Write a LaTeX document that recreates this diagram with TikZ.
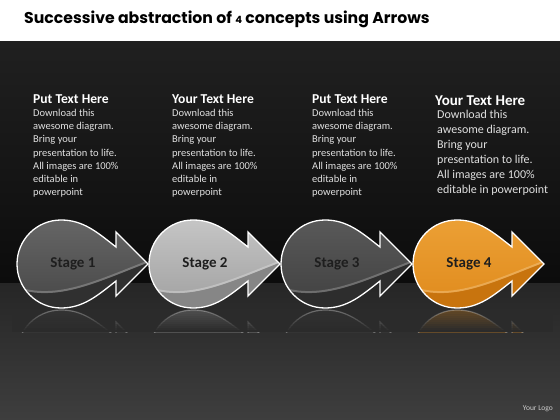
\documentclass[tikz,border=0pt]{standalone}
\usepackage{fontspec}
\setmainfont{Carlito}
\newfontfamily\titlefont{Poppins}
\definecolor{bgA}{HTML}{202020}
\definecolor{bgB}{HTML}{0C0C0C}
\definecolor{flA}{HTML}{262626}
\definecolor{flB}{HTML}{3E3E3E}
\definecolor{flM}{HTML}{2B2B2B}
\definecolor{labelc}{HTML}{1E1E1E}
\definecolor{orA}{HTML}{ECA035}
\definecolor{orB}{HTML}{DF8A1C}
\definecolor{orC}{HTML}{C8740E}
\tikzset{
  headtext/.style={anchor=base west, inner sep=0pt, text=white, font=\fontsize{13.6}{15}\selectfont\bfseries},
  bodytext/.style={anchor=base west, inner sep=0pt, text=white!88!black, font=\fontsize{10.5}{12}\selectfont},
  headbig/.style={anchor=base west, inner sep=0pt, text=white, font=\fontsize{15}{17}\selectfont\bfseries},
  bodybig/.style={anchor=base west, inner sep=0pt, text=white!88!black, font=\fontsize{12}{14}\selectfont},
  stagelabel/.style={inner sep=0pt, text=labelc, font=\fontsize{15}{17}\selectfont\bfseries},
  outline/.style={draw=white, line width=1.3pt, line join=miter}
}
\newcommand\drawstage[6]{%
  \begin{scope}
    \clip (#1-5,309) rectangle (#1+140,332);
    \fill[shift={(0,618)}, yscale=-1, #3, opacity=0.3] (#1+99,247) .. controls (#1+80,232) and (#1+66,220) .. (#1+44,220)
      arc[start angle=270,end angle=90,radius=44]
      .. controls (#1+66,308) and (#1+80,296) .. (#1+99,281) -- (#1+99,296) -- (#1+131,264) -- (#1+99,232) -- cycle;
    \draw[shift={(0,618)}, yscale=-1, white, opacity=0.3, line width=1.2pt] (#1+99,247) .. controls (#1+80,232) and (#1+66,220) .. (#1+44,220)
      arc[start angle=270,end angle=90,radius=44]
      .. controls (#1+66,308) and (#1+80,296) .. (#1+99,281) -- (#1+99,296) -- (#1+131,264) -- (#1+99,232) -- cycle;
    \foreach \k in {0,...,9}{
      \fill[flM, opacity={0.1+0.1*\k}] (#1-5,{312+2*\k}) rectangle (#1+140,{314.1+2*\k});
    }
  \end{scope}
  \begin{scope}
    \clip (#1+99,247) .. controls (#1+80,232) and (#1+66,220) .. (#1+44,220)
      arc[start angle=270,end angle=90,radius=44]
      .. controls (#1+66,308) and (#1+80,296) .. (#1+99,281) -- (#1+99,296) -- (#1+131,264) -- (#1+99,232) -- cycle;
    \shade[top color=#2, bottom color=#3] (#1-2,218) rectangle (#1+134,310);
    \fill[#4] (#1-2,288) .. controls (#1+40,303) and (#1+80,282) .. (#1+135,261) -- (#1+135,312) -- (#1-2,312) -- cycle;
    \draw[#2!50!white, opacity=0.4, line width=2pt] (#1-2,287) .. controls (#1+40,302) and (#1+80,281) .. (#1+135,260);
  \end{scope}
  \path[outline] (#1+99,247) .. controls (#1+80,232) and (#1+66,220) .. (#1+44,220)
      arc[start angle=270,end angle=90,radius=44]
      .. controls (#1+66,308) and (#1+80,296) .. (#1+99,281) -- (#1+99,296) -- (#1+131,264) -- (#1+99,232) -- cycle;
  \node[stagelabel] (#6) at (#1+56,264) {#5};
}
\begin{document}
\begin{tikzpicture}[x=1pt,y=-1pt]
\useasboundingbox (0,0) rectangle (560,420);
\fill[white] (0,0) rectangle (560,42);
\shade[top color=bgA, bottom color=bgB] (0,42) rectangle (560,283);
\shade[top color=flA, bottom color=flB] (0,283) rectangle (560,420);
\node[anchor=base west, inner sep=0pt, font=\titlefont\fontsize{15.7}{17}\selectfont\bfseries, text=black] (title) at (24,24)
  {Successive abstraction of {\fontsize{10}{12}\selectfont 4} concepts using Arrows};
% text blocks
\node[headtext] (h1) at (33,103.5) {Put Text Here};
\node[headtext] (h2) at (172,103.5) {Your Text Here};
\node[headtext] (h3) at (312,103.5) {Put Text Here};
\node[headbig] (h4) at (435,106) {Your Text Here};
\foreach \bx/\bn in {33/1,172/2,312/3}{
  \foreach \txt [count=\i] in {{Download this},{awesome diagram.},{Bring your},{presentation to life.},{All images are 100\%},{editable in},{powerpoint}}{
    \node[bodytext] (b\bn l\i) at (\bx,{116.5+13.2*(\i-1)}) {\txt};
  }
}
\foreach \txt [count=\i] in {{Download this},{awesome diagram.},{Bring your},{presentation to life.},{All images are 100\%},{editable in powerpoint}}{
  \node[bodybig] (b4l\i) at (437,{118.5+15*(\i-1)}) {\txt};
}
% stages
\drawstage{17}{gray!80!black}{gray!55!black}{gray!38!black}{Stage 1}{s1}
\drawstage{149}{gray!45!white}{gray!75!white}{gray!95!white}{Stage 2}{s2}
\drawstage{281}{gray!70!black}{gray!50!black}{gray!35!black}{Stage 3}{s3}
\drawstage{413}{orA}{orB}{orC}{Stage 4}{s4}
\node[anchor=base east, inner sep=0pt, text=white!80!black, font=\fontsize{7.5}{9}\selectfont] (logo) at (553,410) {Your Logo};
\end{tikzpicture}
\end{document}
